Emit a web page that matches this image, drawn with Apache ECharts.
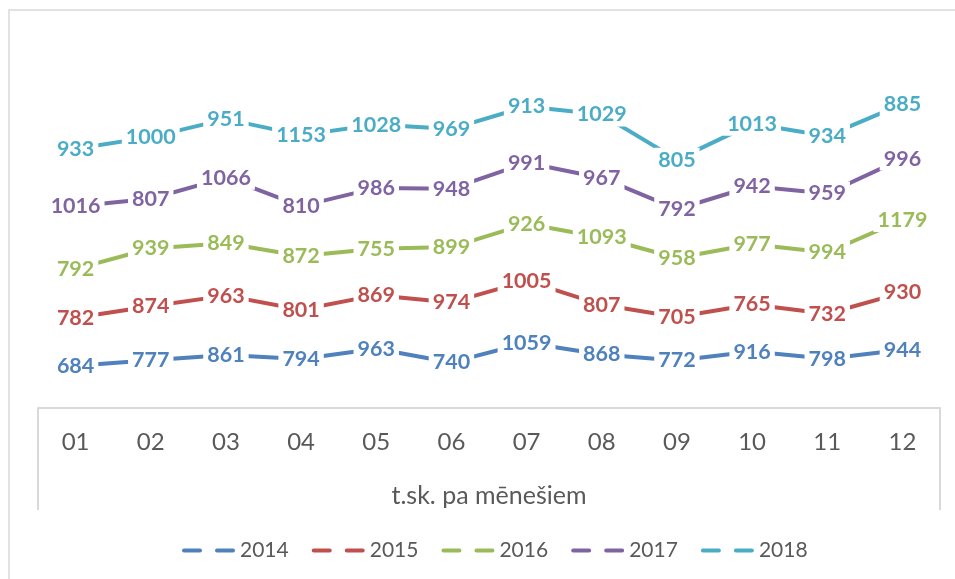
<!DOCTYPE html>
<html>
<head>
<meta charset="utf-8">
<script src="https://cdn.jsdelivr.net/npm/echarts@6/dist/echarts.min.js"></script>
<style>
  html, body { margin: 0; padding: 0; background: #fff; }
  #chart { width: 955px; height: 579px; }
</style>
</head>
<body>
<div id="chart"></div>
<script>
var months = ['01', '02', '03', '04', '05', '06', '07', '08', '09', '10', '11', '12'];
var years = ['2014', '2015', '2016', '2017', '2018'];
var colors = ['#4F81BD', '#C0504D', '#9BBB59', '#8064A2', '#4BACC6'];

var v2014 = [684, 777, 861, 794, 963, 740, 1059, 868, 772, 916, 798, 944];
var v2015 = [782, 874, 963, 801, 869, 974, 1005, 807, 705, 765, 732, 930];
var v2016 = [792, 939, 849, 872, 755, 899, 926, 1093, 958, 977, 994, 1179];
var v2017 = [1016, 807, 1066, 810, 986, 948, 991, 967, 792, 942, 959, 996];
var v2018 = [933, 1000, 951, 1153, 1028, 969, 913, 1029, 805, 1013, 934, 885];

var axisName = 't.sk. pa mēnešiem';
var values = [v2014, v2015, v2016, v2017, v2018];

var myChart = echarts.init(document.getElementById('chart'));

var series = [];
years.forEach(function(y, i){
    series.push({
        name: y,
        type: 'line',
        stack: 'total',
        data: values[i],
        symbol: 'circle',
        symbolSize: 0,
        showSymbol: true,
        lineStyle: { color: colors[i], width: 4, cap: 'round' },
        itemStyle: { color: colors[i] },
        label: {
            show: true,
            position: 'inside',
            color: colors[i],
            fontFamily: 'Lato',
            fontWeight: 'bold',
            fontSize: 21.5,
            backgroundColor: '#fff',
            padding: [1, 4]
        },
        emphasis: { disabled: true }
    });
});

var option = {
    animation: false,
    textStyle: { fontFamily: 'Lato' },
    grid: { left: 38, right: 15, top: 100, bottom: 171 },
    xAxis: {
        type: 'category',
        data: months,
        boundaryGap: true,
        axisLine: { lineStyle: { color: '#d9d9d9', width: 2 } },
        axisTick: { show: false },
        axisLabel: { color: '#595959', fontSize: 24, margin: 22, fontFamily: 'Lato' },
        name: axisName,
        nameLocation: 'middle',
        nameGap: 75,
        nameTextStyle: { color: '#595959', fontSize: 25, fontFamily: 'Lato' }
    },
    yAxis: {
        type: 'value',
        min: 0,
        max: 5000,
        show: false
    },
    legend: {
        data: years,
        left: 177,
        top: 535,
        itemWidth: 53,
        itemHeight: 4,
        itemGap: 23,
        icon: 'path://M2,0H18A2,2,0,0,1,18,4H2A2,2,0,0,1,2,0Z M35,0H51A2,2,0,0,1,51,4H35A2,2,0,0,1,35,0Z',
        textStyle: { color: '#595959', fontSize: 21, fontFamily: 'Lato' }
    },
    graphic: [
        { type: 'rect', shape: { x: 9, y: 10, width: 980, height: 600 },
          style: { fill: 'none', stroke: '#d9d9d9', lineWidth: 1.5 }, silent: true },
        { type: 'line', shape: { x1: 38, y1: 408, x2: 38, y2: 510 },
          style: { stroke: '#d9d9d9', lineWidth: 2 }, silent: true },
        { type: 'line', shape: { x1: 940, y1: 408, x2: 940, y2: 510 },
          style: { stroke: '#d9d9d9', lineWidth: 2 }, silent: true }
    ],
    series: series
};

myChart.setOption(option);
</script>
</body>
</html>
